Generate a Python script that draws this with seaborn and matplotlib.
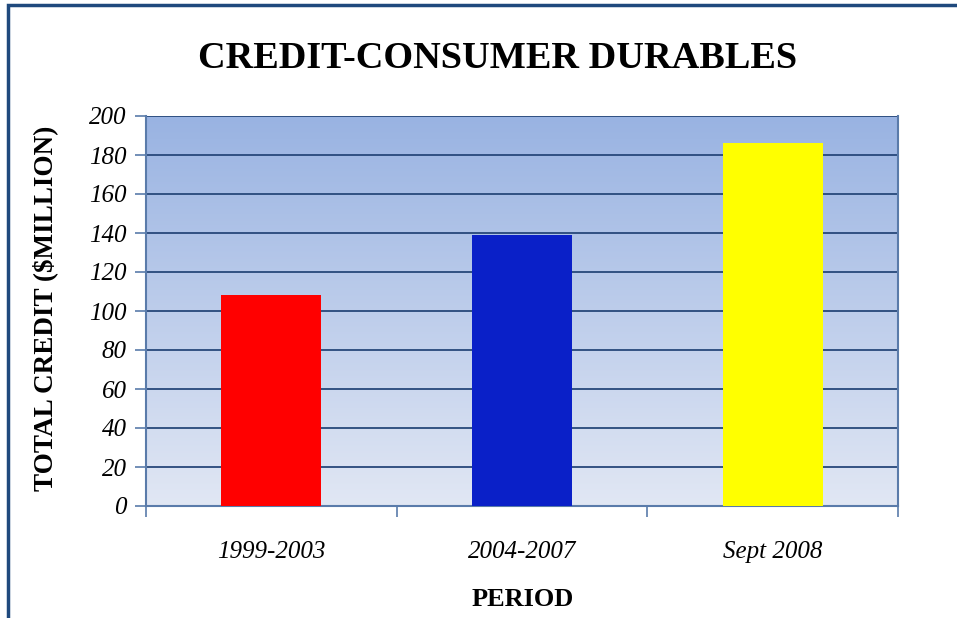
import numpy as np
import pandas as pd
import matplotlib.pyplot as plt
import matplotlib.patches as mpatches
from matplotlib.colors import LinearSegmentedColormap
import seaborn as sns

# ---- Data ----
periods = ["1999-2003", "2004-2007", "Sept 2008"]
credit = [108, 139, 186]
bar_colors = ["#FF0000", "#0A20C8", "#FFFF00"]
y_ticks = [0, 20, 40, 60, 80, 100, 120, 140, 160, 180, 200]

df = pd.DataFrame({"period": periods, "credit": credit})

sns.set_style("white")
plt.rcParams["font.family"] = ["Liberation Serif", "DejaVu Serif"]
plt.rcParams["text.color"] = "black"
plt.rcParams["xtick.color"] = "black"
plt.rcParams["ytick.color"] = "black"

fig = plt.figure(figsize=(9.57, 6.18), dpi=100)
ax = fig.add_axes([146 / 957, 1 - 506 / 618, (898 - 146) / 957, (506 - 116) / 618])

# ---- Gradient background ----
grad = np.linspace(0, 1, 256).reshape(-1, 1)
cmap = LinearSegmentedColormap.from_list("bg", ["#E1E7F4", "#99B3E2"])
ax.imshow(grad, aspect="auto", cmap=cmap, origin="lower",
          extent=[-0.5, 2.5, 0, 200], zorder=0)

# ---- Bars ----
sns.barplot(data=df, x="period", y="credit", hue="period", palette=bar_colors,
            width=0.4, legend=False, saturation=1, linewidth=0, edgecolor="none",
            ax=ax, zorder=3)

ax.set_xlim(-0.5, 2.5)
ax.set_ylim(0, 200)
ax.set_yticks(y_ticks)
ax.set_yticklabels([str(v) for v in y_ticks], fontsize=18, style="italic")
ax.set_xticks([0, 1, 2])
ax.set_xticklabels(periods, fontsize=18, style="italic")
ax.tick_params(axis="x", which="major", length=0, pad=25, bottom=True)
ax.tick_params(axis="y", left=True, length=8, width=1.2, color="#5A7BAA",
               labelcolor="black", pad=6, direction="out")

# category boundary ticks on x axis
ax.set_xticks([-0.5, 0.5, 1.5, 2.5], minor=True)
ax.tick_params(axis="x", which="minor", bottom=True, length=8, width=1.2,
               color="#5A7BAA", direction="out")

# ---- Grid ----
for v in y_ticks[1:]:
    ax.axhline(v, color="#27487A", linewidth=1.3, zorder=2)

for side in ["left", "bottom", "right"]:
    ax.spines[side].set_visible(True)
    ax.spines[side].set_color("#5A7BAA")
    ax.spines[side].set_linewidth(1.5)
ax.spines["top"].set_visible(False)

ax.set_xlabel("")
ax.set_ylabel("")

# ---- Labels ----
fig.text(498 / 957, 1 - 58 / 618, "CREDIT-CONSUMER DURABLES", fontsize=27.5,
         fontweight="bold", ha="center", va="center")
fig.text(45 / 957, 1 - 308 / 618, "TOTAL CREDIT ($MILLION)", fontsize=19.5,
         fontweight="bold", ha="center", va="center", rotation=90)
fig.text(523 / 957, 1 - 600 / 618, "PERIOD", fontsize=19,
         fontweight="bold", ha="center", va="center")

# ---- Outer frame ----
frame = mpatches.Rectangle((8 / 957, -0.1), 1.2, 1 - 5 / 618 + 0.1,
                           transform=fig.transFigure, fill=False,
                           edgecolor="#1F497D", linewidth=2.5, clip_on=False)
fig.patches.append(frame)

fig.savefig("out.png", dpi=100)
